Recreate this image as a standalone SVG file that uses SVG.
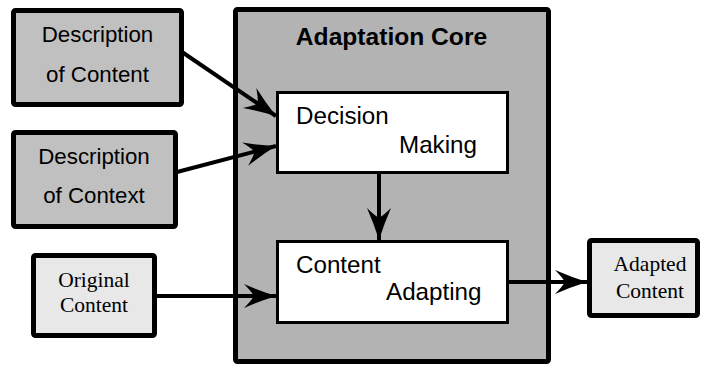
<svg xmlns="http://www.w3.org/2000/svg" width="701" height="365" viewBox="0 0 701 365">
  <style>
    .thick { stroke: #000; stroke-width: 5; stroke-linejoin: round; }
    .inner { fill: #fff; stroke: #000; stroke-width: 3; }
    .desc { fill: #c0c0c0; }
    .data { fill: #e8e8e8; }
    .core { fill: #b3b3b3; }
    .sans { font-family: "Liberation Sans", Arial, sans-serif; fill: #000; }
    .serif { font-family: "Liberation Serif", "Times New Roman", serif; fill: #000; font-size: 21.5px; }
    .lbl { font-size: 22.3px; }
    .blk { font-size: 24.2px; }
    .conn { stroke: #000; stroke-width: 4; fill: none; marker-end: url(#arrow); }
  </style>
  <defs>
    <marker id="arrow" markerUnits="userSpaceOnUse" markerWidth="36" markerHeight="28" viewBox="-34 -14 36 28" refX="0" refY="0" orient="auto" overflow="visible">
      <path d="M0,0 Q-16,-5 -32,-12 Q-25,-5 -22,0 Q-25,5 -32,12 Q-16,5 0,0 Z" fill="#000"/>
    </marker>
  </defs>

  <!-- container -->
  <g id="adaptation-core">
    <rect class="thick core" x="235.5" y="9.5" width="313" height="352" rx="2"/>
    <text class="sans" x="391.5" y="45" font-size="24.6" font-weight="bold" text-anchor="middle">Adaptation Core</text>
  </g>

  <g id="description-content">
    <rect class="thick desc" x="13.5" y="10.5" width="168" height="94" rx="2"/>
    <text class="sans lbl" x="97.5" y="42" text-anchor="middle">Description</text>
    <text class="sans lbl" x="97.5" y="82" text-anchor="middle">of Content</text>
  </g>

  <g id="description-context">
    <rect class="thick desc" x="13.5" y="132.5" width="162" height="94" rx="2"/>
    <text class="sans lbl" x="94" y="164" text-anchor="middle">Description</text>
    <text class="sans lbl" x="94" y="203" text-anchor="middle">of Context</text>
  </g>

  <g id="original-content">
    <rect class="thick data" x="33.5" y="255.5" width="121" height="80" rx="2"/>
    <text class="serif" x="94" y="287" text-anchor="middle">Original</text>
    <text class="serif" x="94" y="312" text-anchor="middle">Content</text>
  </g>

  <g id="decision-making">
    <rect class="inner" x="277.5" y="92.5" width="230" height="80"/>
    <text class="sans blk" x="296" y="124">Decision</text>
    <text class="sans blk" x="399" y="153">Making</text>
  </g>

  <g id="content-adapting">
    <rect class="inner" x="277.5" y="241.5" width="230" height="81"/>
    <text class="sans blk" x="296" y="273">Content</text>
    <text class="sans blk" x="386" y="300">Adapting</text>
  </g>

  <g id="adapted-content">
    <rect class="thick data" x="589.5" y="240.5" width="108" height="75" rx="2"/>
    <text class="serif" x="650" y="271" text-anchor="middle">Adapted</text>
    <text class="serif" x="650" y="298" text-anchor="middle">Content</text>
  </g>

  <g id="connectors">
    <line class="conn" x1="182" y1="52" x2="276" y2="116"/>
    <line class="conn" x1="177" y1="172" x2="276" y2="146"/>
    <line class="conn" x1="156" y1="296" x2="276" y2="296"/>
    <line class="conn" x1="379" y1="174" x2="379" y2="240"/>
    <line class="conn" x1="509" y1="282" x2="587" y2="282"/>
  </g>
</svg>
